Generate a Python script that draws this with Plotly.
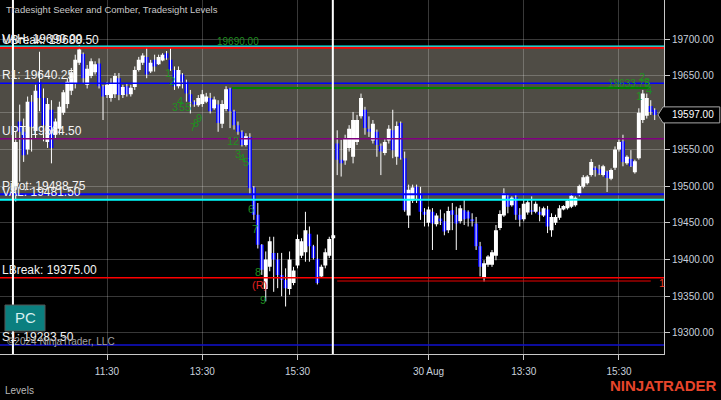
import plotly.graph_objects as go

# ---------------- data ----------------
OPEN = [19500, 19588, 19574, 19550, 19615, 19575, 19642, 19620, 19560, 19604,
        19570, 19578, 19600, 19612, 19630, 19640, 19668, 19680, 19638, 19650,
        19655, 19667, 19636, 19624, 19620, 19625, 19647, 19624, 19636, 19625,
        19635, 19658, 19668, 19676, 19656, 19672, 19666, 19671, 19681, 19672,
        19658, 19636, 19652, 19642, 19625, 19615, 19610, 19612, 19615, 19620,
        19606, 19611, 19585, 19605, 19633, 19602, 19583, 19574, 19556, 19567,
        19498, 19461, 19420, 19360, 19390, 19409, 19400, 19379, 19372, 19360,
        19368, 19392, 19405, 19410, 19435, 19418, 19401, 19377, 19392, 19405,
        19429,
        19558, 19536, 19535, 19552, 19540, 19560, 19595, 19604, 19578, 19562,
        19574, 19555, 19545, 19562, 19576, 19540, 19586, 19538, 19460, 19480,
        19499, 19488, 19465, 19450, 19465, 19448, 19456, 19452, 19440, 19467,
        19461, 19452, 19467, 19465, 19455, 19449, 19418, 19375, 19393, 19393,
        19405, 19443, 19460, 19486, 19474, 19485, 19461, 19455, 19464, 19467,
        19465, 19465, 19460, 19468, 19440, 19450, 19457, 19468, 19470, 19472,
        19474, 19488, 19499, 19504, 19515, 19525, 19523, 19515, 19520, 19510,
        19525, 19550, 19561, 19531, 19537, 19519, 19538, 19590, 19596, 19609,
        19604]
HIGH = [19574, 19611, 19592, 19622, 19624, 19638, 19683, 19633, 19620, 19617,
        19592, 19615, 19631, 19647, 19661, 19679, 19692, 19682, 19665, 19674,
        19670, 19674, 19638, 19642, 19647, 19654, 19654, 19638, 19640, 19638,
        19663, 19676, 19681, 19688, 19672, 19679, 19679, 19681, 19684, 19688,
        19663, 19663, 19654, 19645, 19631, 19617, 19624, 19631, 19627, 19627,
        19622, 19617, 19617, 19636, 19634, 19604, 19588, 19576, 19572, 19572,
        19500, 19477, 19421, 19411, 19431, 19431, 19409, 19409, 19388, 19411,
        19390, 19434, 19429, 19465, 19445, 19420, 19434, 19393, 19415, 19431,
        19434,
        19576, 19563, 19570, 19583, 19601, 19597, 19626, 19608, 19595, 19590,
        19577, 19558, 19565, 19583, 19604, 19588, 19588, 19547, 19502, 19502,
        19502, 19499, 19470, 19472, 19470, 19463, 19468, 19463, 19472, 19477,
        19472, 19474, 19481, 19467, 19463, 19458, 19424, 19399, 19406, 19413,
        19447, 19467, 19497, 19488, 19486, 19488, 19470, 19481, 19481, 19486,
        19479, 19472, 19472, 19473, 19463, 19461, 19474, 19474, 19482, 19490,
        19486, 19502, 19515, 19515, 19537, 19527, 19529, 19529, 19521, 19524,
        19554, 19564, 19570, 19542, 19549, 19536, 19606, 19631, 19626, 19617,
        19606]
LOW = [19479, 19506, 19533, 19543, 19547, 19565, 19602, 19561, 19552, 19531,
       19565, 19570, 19597, 19606, 19624, 19633, 19665, 19640, 19633, 19647,
       19652, 19633, 19590, 19620, 19615, 19620, 19617, 19620, 19622, 19622,
       19631, 19656, 19665, 19647, 19654, 19656, 19665, 19670, 19672, 19657,
       19631, 19633, 19633, 19615, 19599, 19608, 19608, 19608, 19613, 19599,
       19604, 19574, 19579, 19602, 19579, 19577, 19570, 19554, 19554, 19488,
       19454, 19415, 19379, 19343, 19384, 19356, 19361, 19350, 19336, 19352,
       19365, 19388, 19402, 19397, 19397, 19400, 19366, 19375, 19388, 19402,
       19428,
       19515, 19513, 19529, 19547, 19531, 19556, 19592, 19570, 19567, 19558,
       19540, 19515, 19542, 19558, 19538, 19529, 19536, 19465, 19443, 19477,
       19477, 19454, 19445, 19445, 19413, 19445, 19447, 19433, 19436, 19440,
       19413, 19449, 19447, 19445, 19445, 19413, 19377, 19370, 19390, 19390,
       19399, 19440, 19458, 19463, 19472, 19454, 19445, 19452, 19461, 19461,
       19463, 19452, 19458, 19436, 19431, 19447, 19454, 19467, 19468, 19470,
       19472, 19486, 19497, 19502, 19513, 19513, 19515, 19513, 19492, 19508,
       19522, 19547, 19527, 19529, 19526, 19517, 19536, 19586, 19592, 19597,
       19590]
CLOSE = [19560, 19574, 19542, 19615, 19581, 19630, 19620, 19583, 19612, 19552,
         19588, 19608, 19628, 19642, 19655, 19672, 19686, 19647, 19660, 19670,
         19666, 19636, 19622, 19638, 19640, 19650, 19624, 19635, 19625, 19634,
         19658, 19672, 19678, 19652, 19668, 19663, 19676, 19679, 19674, 19659,
         19636, 19658, 19642, 19626, 19615, 19611, 19620, 19625, 19622, 19602,
         19618, 19586, 19612, 19632, 19602, 19583, 19574, 19556, 19568, 19497,
         19461, 19420, 19386, 19400, 19425, 19400, 19379, 19372, 19361, 19400,
         19385, 19428, 19425, 19440, 19418, 19402, 19368, 19390, 19410, 19428,
         19433,
         19536, 19531, 19565, 19578, 19590, 19590, 19620, 19579, 19574, 19585,
         19556, 19547, 19560, 19578, 19549, 19582, 19538, 19467, 19495, 19498,
         19488, 19465, 19461, 19468, 19449, 19460, 19452, 19438, 19466, 19461,
         19449, 19470, 19455, 19456, 19452, 19418, 19390, 19395, 19404, 19410,
         19440, 19462, 19490, 19472, 19484, 19461, 19454, 19476, 19478, 19465,
         19476, 19461, 19470, 19445, 19458, 19458, 19470, 19473, 19480, 19487,
         19484, 19500, 19512, 19513, 19533, 19522, 19517, 19527, 19511, 19522,
         19550, 19560, 19533, 19540, 19527, 19534, 19600, 19626, 19620, 19601,
         19597]

TICK_IDX = [23, 47, 71, 104, 128, 152]
TICK_TEXT = ["11:30", "13:30", "15:30", "30 Aug", "13:30", "15:30"]
Y_TICKS = [19300, 19350, 19400, 19450, 19500, 19550, 19600, 19650, 19700]

LEVEL_NAMES = ["VAH", "UBreak", "R1", "UPT", "Pivot", "VAL", "LBreak", "S1"]
LEVEL_VALUES = [19690.00, 19688.50, 19640.25, 19564.50, 19488.75, 19481.50, 19375.00, 19283.50]
LEVEL_COLORS = ["#00ffff", "#ff0000", "#0000ff", "#800080", "#0000ff", "#00ffff", "#ff0000", "#1010d0"]
LEVEL_WIDTHS = [2, 2, 1.5, 1.5, 2, 2, 1.5, 1.5]

VALUE_AREA = [19481.50, 19690.00]
SEEKER_LEVEL = 19633.75
SEEKER_SPAN = [54.5, 160]
SECOND_LOW = 19370.75
SECOND_LOW_SPAN = [81, 160]
SESSION_BREAKS = [-0.7, 79.9]

# seeker / comber counts: (bar index, price, text)
COUNT_LABELS = [(38.4, 19654, "1"), (39.4, 19643, "2"), (40.1, 19608, "3"), (41.4, 19616, "4"),
                (42.7, 19608, "55"), (44.7, 19580, "7"), (45.4, 19586, "8"), (46.2, 19593, "9"),
                (54.7, 19561, "12"), (56, 19544, "3"), (57, 19538, "4"), (58, 19533, "5"),
                (59.3, 19469, "6"), (60.3, 19442, "7"), (61.1, 19383, "8"), (62.3, 19345, "9"),
                (157, 19623, "1"), (157.8, 19649, "2"), (159, 19642, "3"), (159.6, 19631, "4")]
PRICE_LABELS = [(56, 19697, "19690.00"), (154.5, 19640, "19633.75")]

X_RANGE = [-3.96, 163.34]
Y_RANGE = [19271.3, 19753.5]

FONT = "Liberation Sans, Arial, sans-serif"


def yp(p):
    return (p - Y_RANGE[0]) / (Y_RANGE[1] - Y_RANGE[0])


idx = list(range(len(OPEN)))

# wicks (white for all bars)
wx, wy = [], []
for i, h, l in zip(idx, HIGH, LOW):
    wx += [i, i, None]
    wy += [h, l, None]

fig = go.Figure()
fig.add_trace(go.Scatter(x=wx, y=wy, mode="lines", line=dict(color="white", width=1),
                         hoverinfo="skip", showlegend=False))
fig.add_trace(go.Candlestick(
    x=idx, open=OPEN, high=HIGH, low=LOW, close=CLOSE,
    increasing=dict(line=dict(color="white", width=0), fillcolor="white"),
    decreasing=dict(line=dict(color="#0000ff", width=0), fillcolor="#0000ff"),
    showlegend=False,
))

shapes = []
shapes.append(dict(type="rect", xref="paper", yref="y", x0=0, x1=1,
                   y0=VALUE_AREA[0], y1=VALUE_AREA[1], fillcolor="#4f4c45",
                   line=dict(width=0), layer="below"))
for v, c, w in zip(LEVEL_VALUES, LEVEL_COLORS, LEVEL_WIDTHS):
    shapes.append(dict(type="line", xref="paper", yref="y", x0=0, x1=1, y0=v, y1=v,
                       line=dict(color=c, width=w)))
shapes.append(dict(type="line", xref="x", yref="y", x0=SEEKER_SPAN[0], x1=SEEKER_SPAN[1],
                   y0=SEEKER_LEVEL, y1=SEEKER_LEVEL, line=dict(color="#008000", width=2)))
shapes.append(dict(type="line", xref="x", yref="y", x0=SECOND_LOW_SPAN[0], x1=SECOND_LOW_SPAN[1],
                   y0=SECOND_LOW, y1=SECOND_LOW, line=dict(color="#ee0000", width=1.2)))
for sb in SESSION_BREAKS:
    shapes.append(dict(type="line", xref="x", yref="paper", x0=sb, x1=sb, y0=0, y1=1,
                       line=dict(color="white", width=2)))

# last price marker
last = CLOSE[-1]
half = 10.9
shapes.append(dict(type="path", xref="paper", yref="paper",
                   path=(f"M 0.991 {yp(last)} L 0.9985 {yp(last + half)} L 1.084 {yp(last + half)} "
                         f"L 1.084 {yp(last - half)} L 0.9985 {yp(last - half)} Z"),
                   fillcolor="black", line=dict(color="#a8a8a8", width=1)))
# PC button
shapes.append(dict(type="rect", xref="paper", yref="paper", x0=0.0075, x1=0.0678,
                   y0=0.065, y1=0.1384, fillcolor="#0b7f7f", line=dict(color="#555555", width=1)))


def ann(**kw):
    d = dict(showarrow=False, xanchor="center", yanchor="middle")
    d.update(kw)
    return d


annotations = []
annotations.append(ann(xref="paper", yref="paper", x=0.006, y=0.972, xanchor="left",
                       text="Tradesight Seeker and Comber, Tradesight Levels",
                       font=dict(family=FONT, size=9.5, color="#c8c8c8")))
for n, v in zip(LEVEL_NAMES, LEVEL_VALUES):
    annotations.append(ann(xref="paper", yref="y", x=0.0, y=v, xanchor="left", yanchor="bottom",
                           text=f"{n}: {v:.2f}", yshift=-1,
                           font=dict(family=FONT, size=12, color="#f4f4f4")))
for xi, p, t in COUNT_LABELS:
    annotations.append(ann(xref="x", yref="y", x=xi, y=p, text=t,
                           font=dict(family=FONT, size=11, color="#1f8f1f")))
annotations.append(ann(xref="x", yref="y", x=61.3, y=19365, text="(R)",
                       font=dict(family=FONT, size=11, color="#e02020")))
for xi, p, t in PRICE_LABELS:
    annotations.append(ann(xref="x", yref="y", x=xi, y=p, text=t,
                           font=dict(family=FONT, size=10, color="#1f8f1f")))
annotations.append(ann(xref="x", yref="y", x=161.5, y=SECOND_LOW - 3, text="1", xanchor="left",
                       font=dict(family=FONT, size=11, color="#e83a20")))
annotations.append(ann(xref="paper", yref="paper", x=1.043, y=yp(last), text=f"{last:.2f}",
                       font=dict(family=FONT, size=10, color="white")))
annotations.append(ann(xref="paper", yref="paper", x=0.0377, y=0.1017, text="PC",
                       font=dict(family=FONT, size=15, color="#d8f0f0")))
annotations.append(ann(xref="paper", yref="paper", x=0.008, y=0.034, xanchor="left",
                       text="©2024 NinjaTrader, LLC",
                       font=dict(family=FONT, size=10, color="#a0a0a0")))
annotations.append(ann(xref="paper", yref="paper", x=0.005, y=-0.102, xanchor="left", text="Levels",
                       font=dict(family=FONT, size=10, color="#b8b8b8")))
annotations.append(ann(xref="paper", yref="paper", x=0.9985, y=-0.088, text="<b>NINJATRADER</b>",
                       font=dict(family=FONT, size=15, color="#e8452b")))

GRID = "rgba(255,255,255,0.22)"
fig.update_layout(
    width=721, height=400,
    margin=dict(l=0, r=57, t=0, b=46),
    paper_bgcolor="black", plot_bgcolor="black",
    showlegend=False,
    boxgap=0.0, boxgroupgap=0.0,
    shapes=shapes, annotations=annotations,
    xaxis=dict(range=X_RANGE, tickvals=TICK_IDX, ticktext=TICK_TEXT, showgrid=True, gridcolor=GRID,
               showline=True, linecolor="#c8c8c8", linewidth=1, ticks="outside", ticklen=5,
               tickcolor="#c8c8c8", tickfont=dict(family=FONT, size=10, color="#c8d0dc"),
               ticklabelstandoff=3,
               zeroline=False, rangeslider=dict(visible=False), fixedrange=True),
    yaxis=dict(range=Y_RANGE, side="right", tickvals=Y_TICKS, ticktext=[f"{v:.2f}" for v in Y_TICKS],
               showgrid=True, gridcolor=GRID, showline=True, linecolor="#c8c8c8", linewidth=1,
               ticks="outside", ticklen=5, tickcolor="#c8c8c8",
               tickfont=dict(family=FONT, size=10, color="#c8d0dc"), zeroline=False),
)

fig.write_html("out.html", config={"displayModeBar": False},
               post_script="document.body.style.margin='0';document.body.style.padding='0';"
                           "document.body.style.background='black';")
